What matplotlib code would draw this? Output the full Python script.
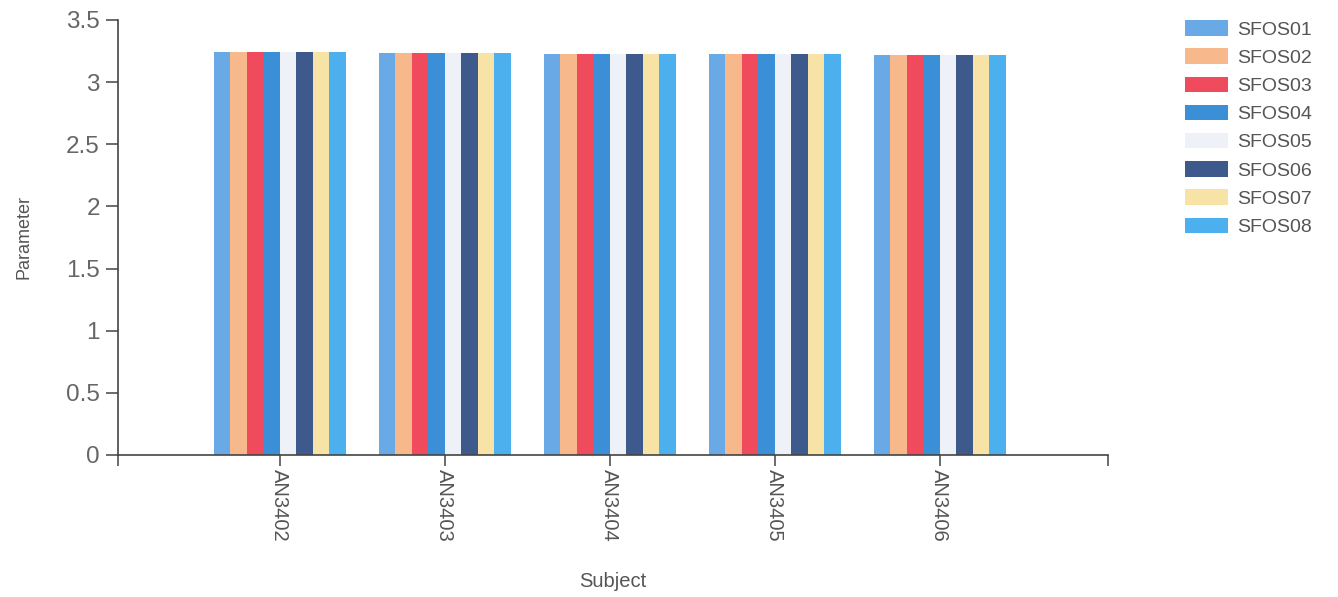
import numpy as np
import matplotlib
matplotlib.use("Agg")
import matplotlib.pyplot as plt

plt.rcParams['font.family'] = ['Liberation Sans', 'DejaVu Sans']

# data
subjects = ['AN3402', 'AN3403', 'AN3404', 'AN3405', 'AN3406']
series = ['SFOS01', 'SFOS02', 'SFOS03', 'SFOS04', 'SFOS05', 'SFOS06', 'SFOS07', 'SFOS08']
sfos01 = [3.245, 3.235, 3.230, 3.225, 3.220]
sfos02 = [3.245, 3.235, 3.230, 3.225, 3.220]
sfos03 = [3.245, 3.235, 3.230, 3.225, 3.220]
sfos04 = [3.245, 3.235, 3.230, 3.225, 3.220]
sfos05 = [3.245, 3.235, 3.230, 3.225, 3.220]
sfos06 = [3.245, 3.235, 3.230, 3.225, 3.220]
sfos07 = [3.245, 3.235, 3.230, 3.225, 3.220]
sfos08 = [3.245, 3.235, 3.230, 3.225, 3.220]
values = [sfos01, sfos02, sfos03, sfos04, sfos05, sfos06, sfos07, sfos08]

colors = ['#69aae6', '#f7b98c', '#ef4b5c', '#3b8fd6',
          '#eef1f7', '#3e5a8c', '#f8e3a6', '#4cb0ef']

fig = plt.figure(figsize=(13.38, 5.97), dpi=100)
ax = fig.add_axes([0.0882, 0.2379, 0.7400, 0.7286])

x = np.arange(len(subjects))
bar_w = 0.1
for i, (name, vals) in enumerate(zip(series, values)):
    offset = (i - (len(series) - 1) / 2) * bar_w
    ax.bar(x + offset, vals, width=bar_w, color=colors[i], label=name,
           linewidth=0)

ax.set_xlim(-0.98, 5.02)
ax.set_ylim(0, 3.5)
ax.set_yticks([0, 0.5, 1, 1.5, 2, 2.5, 3, 3.5])
ax.set_yticklabels(['0', '0.5', '1', '1.5', '2', '2.5', '3', '3.5'])
ax.set_xticks(x)
ax.set_xticklabels(subjects, rotation=-90)
ax.set_xticks([-0.98, 5.02], minor=True)

for s in ['top', 'right']:
    ax.spines[s].set_visible(False)
for s in ['left', 'bottom']:
    ax.spines[s].set_color('#444444')
    ax.spines[s].set_linewidth(1.2)

ax.tick_params(axis='y', length=9, width=1.1, color='#444444',
               labelsize=17.5, labelcolor='#666666', pad=4)
ax.tick_params(axis='x', which='both', length=8, width=1.1, color='#444444',
               labelsize=14.5, labelcolor='#555555', pad=2)

ax.set_xlabel('Subject', fontsize=14.5, color='#555555', labelpad=22)
ax.set_ylabel('Parameter', fontsize=13, color='#555555', labelpad=24)

leg = ax.legend(loc='upper left', bbox_to_anchor=(1.06, 1.04), frameon=False,
                fontsize=14, handlelength=2.2, handleheight=0.85,
                labelspacing=0.5, handletextpad=0.5)
for t in leg.get_texts():
    t.set_color('#555555')

fig.savefig('out.png', dpi=100)
